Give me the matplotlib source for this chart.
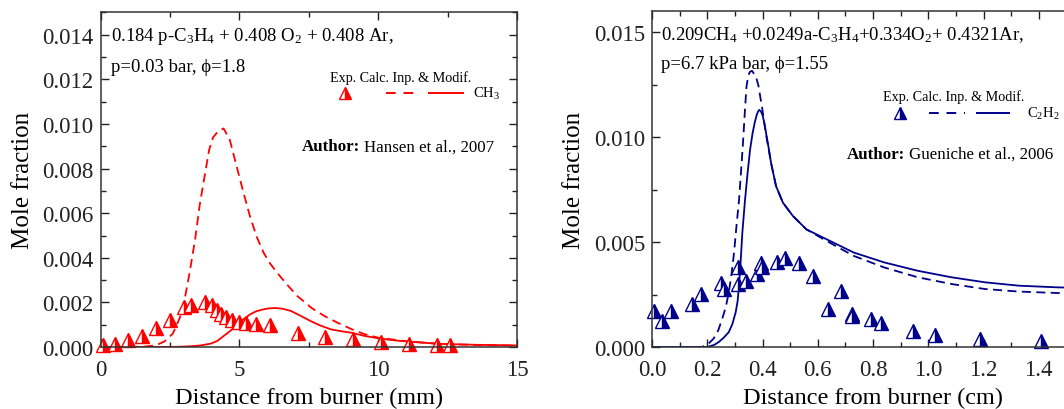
import numpy as np
import matplotlib.pyplot as plt
from matplotlib.ticker import MultipleLocator
from matplotlib.offsetbox import TextArea, HPacker, AnchoredOffsetbox

plt.rcParams['font.family'] = ['Liberation Serif', 'DejaVu Serif']
plt.rcParams['mathtext.fontset'] = 'custom'
plt.rcParams['mathtext.rm'] = 'Liberation Serif'
plt.rcParams['mathtext.it'] = 'Liberation Serif:italic'
plt.rcParams['mathtext.bf'] = 'Liberation Serif:bold'

# --- CH3, Hansen et al. 2007 (distance in mm) ---
ch3_exp_x = [0.1, 0.5, 1.0, 1.5, 2.0, 2.5, 3.0, 3.25, 3.75, 4.0, 4.2, 4.35, 4.5,
             4.75, 5.0, 5.25, 5.6, 6.1, 7.1, 8.1, 9.1, 10.1, 11.1, 12.1, 12.6]
ch3_exp_y = [0.0001, 0.00012, 0.0003, 0.00048, 0.00083, 0.0012, 0.00178, 0.0019,
             0.002, 0.00188, 0.00168, 0.0015, 0.00135, 0.00122, 0.0011, 0.00107,
             0.00104, 0.001, 0.00065, 0.00045, 0.00036, 0.00022, 0.00012, 0.0001, 0.0001]

ch3_inp_x = [0.0, 1.0, 1.6, 2.0, 2.3, 2.6, 2.85, 3.05, 3.2, 3.4, 3.56, 3.75, 3.91,
             4.05, 4.23, 4.43, 4.65, 4.9, 5.15, 5.38, 5.62, 5.87, 6.1, 6.36, 6.7,
             7.09, 7.6, 8.06, 8.55, 9.04, 9.5, 10.0, 11.0, 12.2, 13.5, 15.0]
ch3_inp_y = [0.0, 0.0, 0.00002, 0.00008, 0.00025, 0.0006, 0.0013, 0.0023, 0.0033,
             0.0048, 0.0063, 0.0077, 0.00885, 0.0094, 0.00967, 0.0098, 0.0093,
             0.0081, 0.0069, 0.00586, 0.00495, 0.00423, 0.00375, 0.00333, 0.00282,
             0.00228, 0.00175, 0.00139, 0.00108, 0.0008, 0.00058, 0.00042, 0.00026,
             0.00014, 0.00009, 0.00006]

ch3_mod_x = [0.0, 2.0, 2.8, 3.2, 3.6, 3.96, 4.2, 4.44, 4.7, 4.9, 5.15, 5.38, 5.6,
             5.87, 6.05, 6.29, 6.55, 6.85, 7.2, 7.57, 7.9, 8.3, 8.65, 9.03, 9.5,
             10.0, 10.5, 11.0, 12.2, 13.5, 15.0]
ch3_mod_y = [0.0, 0.0, 0.00001, 0.00003, 0.00007, 0.00015, 0.00027, 0.0005, 0.00075,
             0.001, 0.00125, 0.00146, 0.0016, 0.00169, 0.00173, 0.00175, 0.00172,
             0.00162, 0.0014, 0.00116, 0.00097, 0.00079, 0.00071, 0.00064, 0.0005,
             0.00039, 0.00031, 0.00025, 0.00014, 0.0001, 0.00007]

# --- C2H2, Gueniche et al. 2006 (distance in cm) ---
c2h2_exp_x = [0.007, 0.037, 0.068, 0.144, 0.178, 0.248, 0.262, 0.311, 0.311, 0.342,
              0.379, 0.396, 0.398, 0.452, 0.48, 0.531, 0.584, 0.636, 0.684, 0.724,
              0.724, 0.791, 0.828, 0.944, 1.023, 1.188, 1.408]
c2h2_exp_y = [0.0017, 0.00122, 0.0017, 0.00205, 0.00253, 0.00305, 0.00276, 0.00382,
              0.003, 0.00316, 0.00347, 0.00398, 0.00379, 0.00407, 0.00422, 0.00398,
              0.00336, 0.00182, 0.00265, 0.00158, 0.00147, 0.00131, 0.00115, 0.00076,
              0.00058, 0.00039, 0.00027]

c2h2_inp_x = [0.0, 0.18, 0.2, 0.223, 0.24, 0.254, 0.267, 0.278, 0.288, 0.297, 0.306,
              0.315, 0.323, 0.33, 0.336, 0.342, 0.348, 0.354, 0.362, 0.37, 0.378,
              0.386, 0.392, 0.398, 0.405, 0.413, 0.431, 0.449, 0.474, 0.51, 0.559,
              0.632, 0.73, 0.84, 0.962, 1.084, 1.206, 1.328, 1.469, 1.6]
c2h2_inp_y = [0.0, 0.0, 0.0001, 0.0004, 0.0008, 0.00134, 0.0019, 0.0026, 0.0035,
              0.0045, 0.0058, 0.007, 0.0085, 0.00987, 0.0112, 0.0124, 0.0129, 0.0131,
              0.01315, 0.013, 0.0128, 0.0124, 0.0119, 0.01145, 0.0108, 0.0101,
              0.00876, 0.00766, 0.00687, 0.00624, 0.0056, 0.00505, 0.00434, 0.00379,
              0.00332, 0.003, 0.00276, 0.00264, 0.00257, 0.00252]

c2h2_mod_x = [0.0, 0.2, 0.225, 0.242, 0.26, 0.278, 0.291, 0.303, 0.31, 0.315, 0.321,
              0.327, 0.336, 0.346, 0.355, 0.364, 0.372, 0.379, 0.384, 0.388, 0.394,
              0.4, 0.406, 0.413, 0.422, 0.431, 0.449, 0.474, 0.51, 0.559, 0.632,
              0.73, 0.84, 0.962, 1.084, 1.206, 1.328, 1.469, 1.6]
c2h2_mod_y = [0.0, 0.0, 0.0001, 0.00024, 0.00045, 0.00071, 0.0011, 0.00166, 0.0022,
              0.00292, 0.0041, 0.00545, 0.0069, 0.00829, 0.0094, 0.01018, 0.0107,
              0.01105, 0.01122, 0.01129, 0.01122, 0.01105, 0.0107, 0.01018, 0.0095,
              0.00876, 0.00766, 0.00687, 0.00624, 0.0056, 0.00513, 0.0045, 0.00403,
              0.00363, 0.00332, 0.00308, 0.00292, 0.00284, 0.0028]

RED = '#ff0000'
BLUE = '#00008b'
DASH = (0, (5, 3))


def style_axes(ax, xmaj, xmin, ymaj, ymin):
    ax.xaxis.set_major_locator(MultipleLocator(xmaj))
    ax.xaxis.set_minor_locator(MultipleLocator(xmin))
    ax.yaxis.set_major_locator(MultipleLocator(ymaj))
    ax.yaxis.set_minor_locator(MultipleLocator(ymin))
    ax.tick_params(which='both', direction='in', top=True, right=True,
                   labelsize=16.5, width=1.0, colors='#222222')
    ax.tick_params(which='major', length=6)
    ax.tick_params(which='minor', length=3.5)
    ax.tick_params(axis='x', pad=8.5)
    ax.tick_params(axis='y', pad=5)
    for s in ax.spines.values():
        s.set_linewidth(1.1)
        s.set_color('#333333')
    ax.set_ylabel('Mole fraction', fontsize=18, labelpad=6)


def key(ax, color, species, hx, hy, ry, tri, dash, solid, tx):
    # legend block: header, marker, dashed and solid samples, species name
    ax.text(hx, hy, 'Exp. Calc. Inp. & Modif.', transform=ax.transAxes,
            fontsize=10.2, ha='left', va='center')
    ax.plot([tri], [ry], transform=ax.transAxes, ls='none', marker='^',
            ms=9, color=color, mfc=color, mfcalt='white', fillstyle='right',
            mew=1.0, clip_on=False)
    ax.plot(dash, [ry, ry], transform=ax.transAxes, color=color,
            lw=1.4, ls=(0, (5, 4, 5, 4, 1.2, 4)), clip_on=False)
    ax.plot(solid, [ry, ry], transform=ax.transAxes, color=color,
            lw=1.4, clip_on=False)
    ax.text(tx, ry, species, transform=ax.transAxes, fontsize=10.5,
            ha='left', va='center')


def author(ax, name, x, y):
    box = HPacker(children=[TextArea('Author:', textprops=dict(fontsize=12.2, fontweight='bold')),
                            TextArea(name, textprops=dict(fontsize=12.2))],
                  pad=0, sep=2.5, align='baseline')
    ax.add_artist(AnchoredOffsetbox(loc='center left', child=box, frameon=False,
                                    bbox_to_anchor=(x, y), bbox_transform=ax.transAxes,
                                    borderpad=0, pad=0))


fig = plt.figure(figsize=(10.64, 4.10), dpi=100)
ax1 = fig.add_axes([0.0946, 0.1512, 0.3913, 0.8159])
ax2 = fig.add_axes([0.6128, 0.1512, 0.4154, 0.8195])

# left panel: CH3
ax1.plot(ch3_inp_x, ch3_inp_y, color=RED, lw=1.3, ls=DASH)
ax1.plot(ch3_mod_x, ch3_mod_y, color=RED, lw=1.3)
ax1.plot(ch3_exp_x, ch3_exp_y, ls='none', marker='^', ms=10, color=RED, mfc=RED,
         mfcalt='white', fillstyle='right', mew=1.0, clip_on=False)
ax1.set_xlim(0, 15)
ax1.set_ylim(0, 0.015)
style_axes(ax1, 5, 2.5, 0.002, 0.001)
ax1.yaxis.set_major_formatter(lambda v, p: f'{v:.3f}')
ax1.set_xlabel('Distance from burner (mm)', fontsize=17.5, labelpad=5)
ax1.text(0.026, 0.93, r'0.184 p-C$_3$H$_4$ + 0.408 O$_2$ + 0.408 Ar,',
         transform=ax1.transAxes, fontsize=13.5, va='center')
ax1.text(0.026, 0.84, 'p=0.03 bar, ϕ=1.8', transform=ax1.transAxes,
         fontsize=13.5, va='center')
author(ax1, 'Hansen et al., 2007', 0.484, 0.6)
key(ax1, RED, r'CH$_3$', 0.551, 0.807, 0.759,
    0.587, [0.685, 0.767], [0.789, 0.871], 0.894)

# right panel: C2H2
ax2.plot(c2h2_inp_x, c2h2_inp_y, color=BLUE, lw=1.3, ls=DASH)
ax2.plot(c2h2_mod_x, c2h2_mod_y, color=BLUE, lw=1.3)
ax2.plot(c2h2_exp_x, c2h2_exp_y, ls='none', marker='^', ms=10, color=BLUE, mfc=BLUE,
         mfcalt='white', fillstyle='right', mew=1.0, clip_on=False)
ax2.set_xlim(0, 1.6)
ax2.set_ylim(0, 0.016)
style_axes(ax2, 0.2, 0.1, 0.005, 0.0025)
ax2.yaxis.set_major_formatter(lambda v, p: f'{v:.3f}')
ax2.xaxis.set_major_formatter(lambda v, p: f'{v:.1f}')
ax2.set_xlabel('Distance from burner (cm)', fontsize=17.5, labelpad=5)
ax2.text(0.02, 0.93, r'0.209CH$_4$ +0.0249a-C$_3$H$_4$+0.334O$_2$+ 0.4321Ar,',
         transform=ax2.transAxes, fontsize=13.5, va='center')
ax2.text(0.02, 0.845, 'p=6.7 kPa bar, ϕ=1.55', transform=ax2.transAxes,
         fontsize=13.5, va='center')
author(ax2, 'Gueniche et al., 2006', 0.441, 0.575)
key(ax2, BLUE, r'C$_2$H$_2$', 0.523, 0.748, 0.696,
    0.561, [0.627, 0.708], [0.735, 0.808], 0.849)

fig.savefig('out.png', dpi=100)
